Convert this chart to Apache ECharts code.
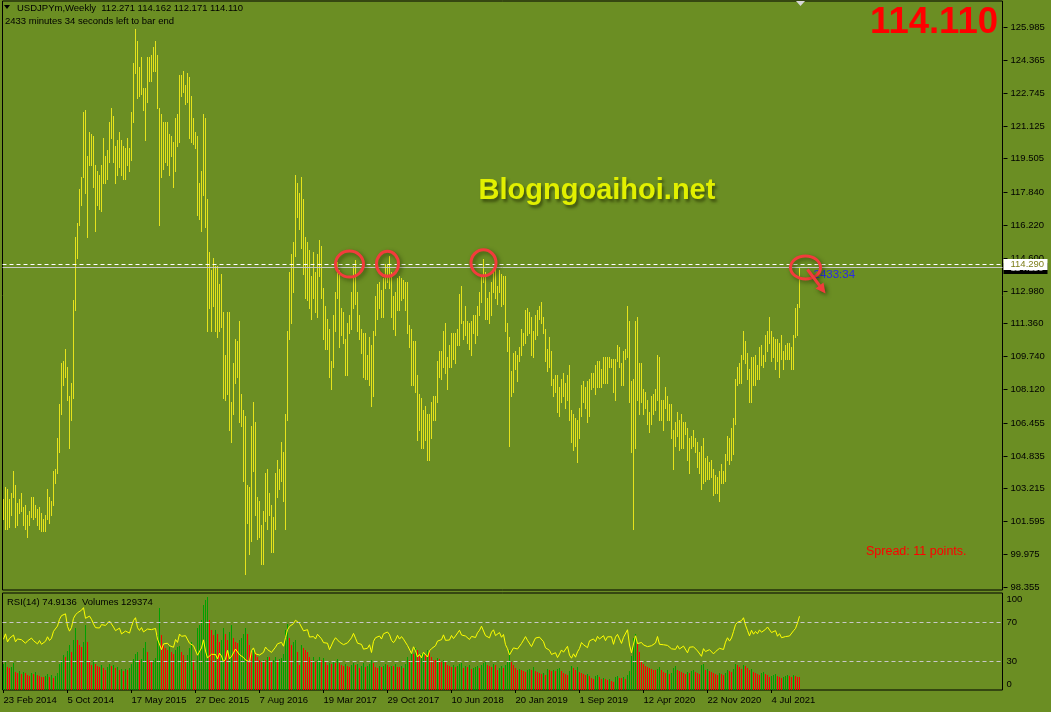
<!DOCTYPE html>
<html><head><meta charset="utf-8">
<script src="https://cdn.jsdelivr.net/npm/echarts@6/dist/echarts.min.js"></script>
<style>html,body{margin:0;padding:0;background:#6B8E23;}#c{width:1051px;height:712px;}</style>
</head><body><div id="c"></div>
<script>
// ---------- DATA (weekly USDJPY, first bar = week of 23 Feb 2014) ----------
const xTickLabels = ['23 Feb 2014','5 Oct 2014','17 May 2015','27 Dec 2015','7 Aug 2016','19 Mar 2017','29 Oct 2017','10 Jun 2018','20 Jan 2019','1 Sep 2019','12 Apr 2020','22 Nov 2020','4 Jul 2021'];
const priceTicks = [125.985,124.365,122.745,121.125,119.505,117.840,116.220,114.600,112.980,111.360,109.740,108.120,106.455,104.835,103.215,101.595,99.975,98.355];
const rsiTicks = [100,70,30,0];
const userLineLevel = 114.290;
const bidLevel = 114.110;
const headerText = 'USDJPYm,Weekly  112.271 114.162 112.171 114.110';
const timerText = '2433 minutes 34 seconds left to bar end';
const indicatorText = 'RSI(14) 74.9136  Volumes 129374';
const bigPriceText = '114.110';
const watermarkText = 'Blogngoaihoi.net';
const spreadText = 'Spread: 11 points.';
const countdownText = '2433:34';

const highs = [
// 2014
102.7,103.3,103.2,102.7,103.0,104.1,103.4,102.5,102.7,103.0,102.3,102.4,101.9,102.1,102.8,102.8,102.4,102.2,102.3,102.0,101.7,101.9,103.2,102.8,102.6,104.1,104.2,105.7,107.4,109.4,109.5,110.1,109.2,107.8,108.4,112.5,115.6,116.3,118.0,118.6,121.8,121.9,119.6,120.8,120.7,
// 2015
120.6,119.2,118.9,118.7,119.2,120.5,119.6,119.9,121.3,122.0,121.6,120.1,120.4,120.8,120.4,120.1,120.0,120.5,120.0,121.8,124.2,125.9,125.3,124.0,124.5,123.0,123.0,124.5,124.5,124.6,125.0,125.3,124.6,122.0,121.7,121.3,121.3,121.3,120.7,120.6,120.3,121.5,121.7,123.6,123.6,123.8,123.1,123.7,123.5,122.6,121.5,120.8,
// 2016
120.6,118.3,118.9,121.7,121.5,117.5,114.9,114.0,114.6,114.2,114.2,113.3,113.8,111.9,109.8,111.9,111.9,107.5,109.4,110.6,110.5,111.5,107.9,107.1,106.8,103.4,103.3,106.3,107.5,106.5,102.8,102.6,101.4,102.1,104.0,104.2,103.0,102.4,101.8,104.0,104.6,104.2,105.5,105.0,106.9,111.0,113.9,114.8,115.4,118.7,118.3,117.8,
// 2017
118.6,117.5,115.6,115.4,115.0,113.7,114.9,113.9,114.8,115.5,115.2,113.1,112.2,111.6,111.1,109.5,111.8,112.9,114.4,114.0,112.1,111.9,110.6,111.4,111.8,112.9,114.2,114.5,112.9,111.8,111.1,110.9,110.9,109.8,110.7,110.3,111.0,112.7,113.3,113.4,113.0,113.6,114.3,114.3,114.7,113.9,112.7,112.9,113.6,113.7,113.6,113.5,
// 2018
113.4,113.4,111.3,111.1,110.5,110.5,108.8,107.9,107.7,107.1,107.3,106.9,106.9,107.5,107.8,107.8,109.5,110.0,110.0,111.0,111.4,109.7,110.3,110.9,110.9,110.9,111.1,112.8,113.2,111.5,112.2,111.5,111.4,111.5,111.8,111.8,112.2,112.9,113.7,114.55,113.9,112.6,112.9,113.4,114.1,114.2,113.2,114.0,113.8,113.7,113.7,111.4,
// 2019
110.7,109.0,109.9,110.0,109.8,110.2,111.1,110.9,112.0,112.1,111.9,111.7,111.0,111.8,112.0,112.2,112.4,111.7,111.1,110.1,110.7,110.0,108.6,108.8,108.8,108.2,108.6,108.9,108.4,108.8,109.3,107.1,106.9,106.7,106.6,107.2,108.3,108.5,108.2,108.5,108.6,108.9,108.9,109.3,109.5,109.5,109.1,109.7,109.7,109.7,109.7,109.6,109.6,
// 2020
109.6,110.3,110.2,109.4,110.0,110.1,112.2,111.5,108.5,108.6,111.5,111.7,109.4,109.4,108.1,108.0,107.6,107.0,107.8,107.9,108.1,109.8,109.7,107.6,107.6,108.2,107.8,107.4,107.4,106.1,106.5,107.0,106.6,106.9,106.5,106.5,106.2,105.7,105.8,106.1,105.7,105.5,105.0,105.3,105.7,104.7,104.8,104.5,104.6,104.2,103.9,103.8,
// 2021
104.1,104.4,104.1,104.9,105.8,105.7,106.2,106.7,108.6,109.2,109.4,109.8,110.97,110.5,109.9,109.1,109.7,109.7,109.8,109.3,110.2,110.3,109.8,110.8,111.0,111.7,111.0,110.7,110.6,110.6,110.4,110.8,110.0,110.3,110.4,110.4,110.2,110.8,112.1,112.3,114.162
];
const lows = [
// 2014
101.7,101.2,101.2,101.3,101.9,102.8,101.3,101.4,102.0,102.1,101.4,101.2,100.8,101.4,101.8,101.7,101.8,101.4,101.2,101.1,101.1,101.1,101.7,101.5,101.9,102.4,103.5,104.0,105.0,106.9,108.3,108.7,107.6,105.2,106.6,107.7,112.0,114.6,116.2,117.2,118.6,117.8,115.6,119.2,119.2,
// 2015
118.1,115.9,117.2,117.0,116.9,118.3,118.3,118.5,119.3,120.5,119.3,118.3,118.7,119.1,118.7,118.5,118.5,119.2,118.9,119.4,121.3,123.7,122.5,122.6,122.7,121.9,120.4,122.3,123.3,123.3,123.8,123.8,122.0,116.2,118.6,119.0,119.3,119.2,118.7,119.6,118.1,118.9,120.1,120.3,122.6,122.8,122.2,122.3,120.5,120.3,120.2,120.0,
// 2016
116.7,116.5,115.9,117.7,116.1,110.98,112.1,111.0,112.2,111.0,110.7,111.0,111.2,107.7,107.6,107.9,106.1,105.5,106.9,108.4,108.7,106.5,106.3,103.6,99.0,101.5,99.98,100.6,104.1,101.9,100.7,100.8,99.5,99.5,101.6,101.2,101.9,100.1,100.1,101.2,102.8,103.2,103.6,102.6,101.2,106.6,110.6,111.4,112.9,114.7,116.6,116.0,
// 2017
115.1,113.8,112.6,112.5,112.1,111.6,112.6,111.9,111.7,113.7,112.6,110.6,110.1,110.1,108.7,108.1,109.2,111.0,112.6,110.2,110.8,110.4,108.8,108.8,110.9,111.1,112.1,112.3,111.0,110.6,109.9,108.7,108.6,108.6,108.3,107.3,107.8,110.8,111.6,112.1,111.7,111.7,113.1,113.4,113.1,111.7,111.1,110.8,112.0,112.0,112.5,112.6,
// 2018
112.0,110.9,110.2,108.3,108.3,108.0,105.6,106.1,105.2,105.2,105.6,104.6,104.6,105.7,106.6,106.6,107.5,108.7,108.6,109.2,108.9,108.1,109.2,109.2,109.6,109.4,110.3,110.3,111.4,110.6,110.8,110.4,110.1,109.8,110.9,110.4,110.8,111.8,112.4,113.4,111.6,111.6,111.4,111.8,112.9,112.6,112.3,112.9,112.2,112.3,111.0,110.0,
// 2019
105.3,107.8,108.0,109.1,108.5,109.5,109.8,110.3,110.4,110.8,110.9,109.8,109.7,110.6,110.8,111.6,111.4,110.9,109.5,109.0,109.2,108.3,107.8,108.0,107.0,106.8,107.5,107.8,107.2,107.6,106.6,105.5,105.1,105.3,104.5,105.7,106.8,107.5,107.2,106.5,106.8,108.1,108.2,107.9,108.2,108.2,108.2,108.4,108.4,108.4,109.2,109.2,108.0,
// 2020
107.6,109.5,109.2,108.3,108.3,109.6,109.7,107.5,105.0,101.2,105.2,107.6,106.9,107.5,106.9,107.2,106.4,106.0,106.4,106.9,107.1,107.6,106.6,106.6,106.1,107.2,106.6,106.6,105.7,104.2,105.3,105.8,105.1,105.2,105.2,105.9,104.6,104.0,105.2,105.3,105.0,104.3,104.0,103.2,103.5,103.6,103.7,103.7,103.8,102.9,103.0,103.0,
// 2021
102.6,103.5,103.5,103.6,104.6,104.4,104.6,104.9,106.4,108.3,108.4,108.4,109.6,109.4,108.6,107.5,107.5,108.3,108.3,108.6,108.6,109.3,109.2,109.5,110.0,110.4,109.5,109.7,109.1,109.5,108.7,109.6,109.1,109.6,109.6,109.6,109.1,109.1,110.7,110.8,112.171
];
const closes = [
// 2014
101.8,103.3,101.3,102.3,102.8,103.3,101.6,102.4,102.2,102.2,101.8,101.4,101.9,101.7,102.5,102.0,102.0,101.4,102.0,101.3,101.3,101.8,102.6,102.0,102.4,103.8,104.1,105.1,107.3,108.9,109.3,109.8,107.8,106.9,108.1,112.3,114.6,116.3,117.7,118.6,121.4,118.8,119.5,120.5,119.7,
// 2015
118.5,117.5,117.7,117.5,119.1,118.8,119.0,119.6,121.0,121.4,120.0,119.2,119.0,120.2,118.9,118.9,119.8,119.8,119.4,121.5,124.1,125.6,123.4,122.7,123.9,122.8,122.6,124.0,123.8,123.9,124.2,124.3,122.0,121.7,119.0,120.5,120.0,120.6,119.9,120.2,119.4,121.4,120.6,123.2,122.6,122.8,122.8,123.3,121.0,121.2,120.3,120.2,
// 2016
117.2,117.0,118.8,121.1,116.9,113.2,112.6,114.0,113.7,113.8,111.5,113.1,111.7,108.1,108.8,111.8,106.3,107.1,108.6,110.1,110.5,106.5,107.0,104.2,102.3,102.5,100.5,104.9,106.1,102.1,101.8,101.3,100.2,101.8,104.0,102.6,102.3,101.0,101.3,102.9,104.2,103.8,104.7,103.1,106.6,110.9,113.2,113.5,115.2,117.9,117.3,116.9,
// 2017
117.0,114.5,114.6,115.1,112.6,113.2,112.9,112.1,114.0,114.8,112.7,111.3,111.4,111.1,108.6,109.1,111.5,112.7,113.4,111.3,111.3,110.4,110.3,110.9,111.3,112.4,113.9,112.6,111.1,110.7,110.7,109.2,109.2,109.4,110.2,107.8,110.8,112.0,112.5,112.6,111.8,113.5,113.7,114.1,113.5,112.1,111.5,112.2,113.5,112.6,113.3,112.7,
// 2018
113.0,111.1,110.8,108.6,110.2,108.8,106.3,106.9,105.4,106.8,106.0,104.7,106.3,106.9,107.4,107.7,109.0,109.1,109.4,110.8,109.4,109.5,109.5,110.7,110.0,110.7,110.5,112.4,111.4,111.0,111.2,110.9,110.5,111.2,111.0,111.0,112.0,112.6,113.7,113.7,112.2,112.5,111.9,113.2,113.8,112.8,112.9,113.5,112.7,113.3,111.3,110.3,
// 2019
108.5,108.4,109.8,109.5,109.5,109.7,110.5,110.7,111.9,111.2,111.5,109.9,110.8,111.7,111.9,111.9,111.6,111.1,109.9,110.1,109.3,108.3,108.2,108.5,107.3,107.8,108.4,107.9,107.7,108.7,106.6,105.7,106.4,105.4,106.3,106.9,108.1,107.6,107.9,106.9,108.3,108.4,108.7,108.2,109.3,108.8,108.7,109.5,108.6,109.4,109.4,109.4,108.1,
// 2020
109.5,110.1,109.3,108.4,109.7,109.8,111.6,108.1,105.4,107.9,110.9,108.0,108.5,108.4,107.5,107.5,106.9,106.7,107.1,107.6,107.8,109.6,107.4,106.9,107.2,107.5,107.0,107.0,106.1,105.8,105.9,106.6,105.8,105.4,106.2,106.2,104.6,105.6,105.3,105.6,105.4,104.7,104.7,103.4,104.6,103.9,104.1,104.2,104.0,103.3,103.6,103.2,
// 2021
103.9,103.9,103.7,104.7,105.4,104.9,105.4,106.6,108.3,109.0,108.9,109.6,110.6,109.6,108.8,107.9,109.3,108.6,109.3,108.9,109.9,109.5,109.7,110.2,110.8,111.0,110.1,110.1,110.5,109.7,110.2,109.6,109.8,109.8,109.7,109.9,109.9,110.7,111.1,112.2,114.110
];
// weekly closes before the first visible bar (Jun 2013 - Feb 2014), only used to seed RSI(14)
const preCloses = [97.5,94.0,97.9,98.6,101.2,99.2,100.6,98.3,98.9,96.2,97.6,98.7,98.1,99.6,99.4,99.4,98.2,97.4,98.6,97.8,97.4,98.7,99.1,100.2,101.0,102.4,102.9,103.2,104.0,104.4,104.9,104.1,104.3,102.3,102.0,102.3,101.8,102.5];
// tick volume, thousands
const volumesK = [
// 2014
260,280,230,220,230,270,180,170,190,160,180,170,150,140,170,160,180,150,140,130,130,140,160,130,150,120,140,170,260,300,350,330,390,450,380,500,620,500,450,430,480,650,480,300,250,
// 2015
300,260,240,230,250,220,200,230,260,240,250,220,230,200,210,190,210,200,220,260,310,360,380,300,310,420,480,380,300,280,300,320,550,820,550,450,420,400,430,380,360,400,430,440,380,350,300,350,420,480,300,200,
// 2016
620,650,700,850,900,930,700,600,550,600,560,480,500,620,560,500,580,650,520,480,470,500,520,560,620,560,450,380,400,380,330,300,280,300,300,330,330,280,300,330,300,310,320,360,600,660,520,450,480,500,380,250,
// 2017
450,420,400,380,330,300,330,280,300,330,300,320,280,250,270,260,280,270,310,270,250,240,260,240,230,250,270,250,260,220,240,270,230,240,260,300,270,230,220,240,230,240,260,250,230,240,240,260,230,230,240,220,
// 2018
260,330,300,380,360,420,400,340,360,380,350,400,380,330,300,300,320,310,280,300,290,250,240,230,250,230,240,260,270,220,240,230,250,210,220,230,240,220,250,270,280,250,240,230,260,250,200,220,240,220,250,280,
// 2019
400,280,250,220,200,210,200,190,180,200,210,200,230,190,180,170,160,170,150,210,200,190,200,190,210,220,190,170,160,150,190,240,220,200,230,180,170,160,150,160,140,120,110,140,150,130,110,120,110,100,110,90,80,
// 2020
130,140,120,120,130,110,150,190,340,520,560,460,380,280,260,240,230,220,210,200,200,210,230,200,180,170,200,160,170,220,240,200,190,180,170,160,180,170,190,200,180,170,160,250,260,200,210,190,180,170,160,150,
// 2021
170,160,150,170,200,190,180,210,260,250,230,210,250,240,220,200,210,180,170,160,150,170,180,160,150,130,140,150,160,140,130,120,130,140,150,140,130,150,140,130,130
];
// annotation anchors: [bar index, price]
const circleMarks = [[173,114.29],[192,114.30],[240,114.35],[401,114.12]];
const countdownAnchor = [398, 114.110];

// ---------- derived ----------
const SLOTS = 500;
const categories = Array.from({length: SLOTS}, (_, i) => i);
const barData = highs.map((h, i) => [i, h, lows[i]]);
const UP_VOL = '#00a000', DOWN_VOL = '#ff0000';
const volData = volumesK.map((v, i) => [i, v, (i === 0 || v > volumesK[i - 1]) ? 1 : 0]);
// RSI(14), Wilder smoothing
const allC = preCloses.concat(closes);
const rsiAll = new Array(allC.length).fill(null);
let ag = 0, al = 0;
for (let j = 1; j <= 14; j++) { const d = allC[j]-allC[j-1]; if (d>0) ag += d; else al -= d; }
ag /= 14; al /= 14;
rsiAll[14] = al === 0 ? 100 : 100 - 100/(1+ag/al);
for (let j = 15; j < allC.length; j++) {
  const d = allC[j]-allC[j-1];
  ag = (ag*13 + (d>0?d:0))/14; al = (al*13 + (d<0?-d:0))/14;
  rsiAll[j] = al === 0 ? 100 : 100 - 100/(1+ag/al);
}
const rsiData = closes.map((c, i) => [i, rsiAll[i + preCloses.length]]);

const FONT = '"Liberation Sans", Arial, sans-serif';
const circleSizes = [[14,13],[11,12.5],[12.5,13],[15,11.5]];

const chart = echarts.init(document.getElementById('c'), null, {renderer: 'canvas'});
chart.setOption({
  animation: false,
  backgroundColor: '#6B8E23',
  grid: [
    {left: 2.5, top: 1, width: 1000, height: 589, show: true, borderColor: '#000', borderWidth: 1, backgroundColor: 'transparent'},
    {left: 2.5, top: 593, width: 1000, height: 97, show: true, borderColor: '#000', borderWidth: 1, backgroundColor: 'transparent'}
  ],
  xAxis: [
    {type: 'category', gridIndex: 0, data: categories, boundaryGap: true, show: false},
    {type: 'category', gridIndex: 1, data: categories, boundaryGap: true,
     axisLine: {show: false},
     axisTick: {show: true, length: 3, alignWithLabel: true, lineStyle: {color: '#000'},
       interval: (idx) => idx % 32 === 0 && idx / 32 < xTickLabels.length},
     axisLabel: {show: true, color: '#000', fontFamily: FONT, fontSize: 9.5, margin: 5, align: 'left', padding: [0,0,0,0],
       interval: (idx) => idx % 32 === 0 && idx / 32 < xTickLabels.length,
       formatter: (v, idx) => xTickLabels[idx / 32] || ''},
     splitLine: {show: false}}
  ],
  yAxis: [
    {type: 'value', gridIndex: 0, min: 98.207, max: 127.268, show: false, splitLine: {show: false}},
    {type: 'value', gridIndex: 1, min: 0, max: 100, show: false, splitLine: {show: false}},
    {type: 'value', gridIndex: 1, min: 0, max: 970, show: false, splitLine: {show: false}}
  ],
  series: [
    { // price bars (high-low)
      type: 'custom', xAxisIndex: 0, yAxisIndex: 0, data: barData, encode: {x: 0, y: [1, 2]}, z: 3,
      renderItem: (params, api) => {
        const a = api.coord([api.value(0), api.value(1)]);
        const b = api.coord([api.value(0), api.value(2)]);
        const x = Math.round(a[0] - 0.5) + 0.5;
        return {type: 'line', shape: {x1: x, y1: Math.round(a[1]), x2: x, y2: Math.round(b[1]) + 1},
          style: {stroke: '#e6e21c', lineWidth: 1}};
      },
      markLine: {silent: true, symbol: 'none', label: {show: false}, animation: false,
        data: [
          {yAxis: userLineLevel, lineStyle: {color: '#ffffff', type: [4, 3], width: 1}},
          {yAxis: bidLevel, lineStyle: {color: '#c8c8c8', type: 'solid', width: 1}}
        ]}
    },
    { // price axis labels
      type: 'custom', xAxisIndex: 0, yAxisIndex: 0, clip: false, z: 5,
      data: priceTicks.map(v => [0, v]),
      renderItem: (params, api) => {
        const cs = params.coordSys; const right = cs.x + cs.width;
        const v = api.value(1);
        const y = Math.round(api.coord([0, v])[1]) + 0.5;
        return {type: 'group', children: [
          {type: 'line', shape: {x1: right + 1, y1: y, x2: right + 5, y2: y}, style: {stroke: '#000', lineWidth: 1}},
          {type: 'text', x: right + 8, y: y, style: {text: v.toFixed(3), fill: '#000', font: '9.5px ' + FONT,
            align: 'left', verticalAlign: 'middle', textAlign: 'left', textVerticalAlign: 'middle'}}
        ]};
      }
    },
    { // price tags on the axis (bid, user line)
      type: 'custom', xAxisIndex: 0, yAxisIndex: 0, clip: false, z: 6,
      data: [[0, bidLevel], [0, userLineLevel]],
      renderItem: (params, api) => {
        const cs = params.coordSys; const right = cs.x + cs.width;
        const v = api.value(1);
        const y = api.coord([0, v])[1];
        const isBid = params.dataIndex === 0;
        return {type: 'group', children: [
          {type: 'rect', shape: {x: right + 1, y: Math.round(y) - 5, width: 44, height: 11},
            style: {fill: isBid ? '#000' : '#fff'}},
          {type: 'text', x: right + 8, y: Math.round(y) + 0.5, style: {text: v.toFixed(3), fill: isBid ? '#c0c0c0' : '#7d7d18',
            font: '9.5px ' + FONT, align: 'left', verticalAlign: 'middle', textAlign: 'left', textVerticalAlign: 'middle'}}
        ]};
      }
    },
    { // red circles + arrow
      type: 'custom', xAxisIndex: 0, yAxisIndex: 0, clip: false, z: 8,
      data: circleMarks,
      renderItem: (params, api) => {
        const p = api.coord([api.value(0), api.value(1)]);
        const s = circleSizes[params.dataIndex];
        const shadow = {shadowBlur: 4, shadowColor: 'rgba(30,40,0,0.55)', shadowOffsetX: 2, shadowOffsetY: 2};
        const kids = [{type: 'ellipse', shape: {cx: p[0], cy: p[1], rx: s[0], ry: s[1]},
          style: Object.assign({fill: null, stroke: '#f23c3c', lineWidth: 3}, shadow)}];
        if (params.dataIndex === circleMarks.length - 1) {
          const x0 = p[0] + 2, y0 = p[1] + 2, x1 = p[0] + 20, y1 = p[1] + 26;
          const L = Math.hypot(x1 - x0, y1 - y0), ux = (x1 - x0) / L, uy = (y1 - y0) / L;
          kids.push({type: 'line', shape: {x1: x0, y1: y0, x2: x1 - ux * 6, y2: y1 - uy * 6},
            style: Object.assign({stroke: '#f23c3c', lineWidth: 3}, shadow)});
          kids.push({type: 'polygon', shape: {points: [[x1, y1],
            [x1 - ux * 10 - uy * 5, y1 - uy * 10 + ux * 5], [x1 - ux * 10 + uy * 5, y1 - uy * 10 - ux * 5]]},
            style: Object.assign({fill: '#f23c3c'}, shadow)});
        }
        return {type: 'group', children: kids};
      }
    },
    { // bar countdown near last bar
      type: 'custom', xAxisIndex: 0, yAxisIndex: 0, clip: false, z: 7,
      data: [countdownAnchor],
      renderItem: (params, api) => {
        const p = api.coord([api.value(0), api.value(1)]);
        return {type: 'text', x: p[0] + 14, y: p[1] + 7, style: {text: countdownText, fill: '#2a2ae6',
          font: '11.5px ' + FONT, align: 'left', verticalAlign: 'middle',
          textAlign: 'left', textVerticalAlign: 'middle'}};
      }
    },
    { // volumes (1px histogram columns)
      type: 'custom', xAxisIndex: 1, yAxisIndex: 2, data: volData, encode: {x: 0, y: 1}, z: 2, silent: true,
      renderItem: (params, api) => {
        const t = api.coord([api.value(0), api.value(1)]);
        const b = api.coord([api.value(0), 0]);
        const x = Math.round(t[0] - 0.5) + 0.5;
        return {type: 'line', shape: {x1: x, y1: Math.round(t[1]), x2: x, y2: Math.round(b[1])},
          style: {stroke: api.value(2) ? UP_VOL : DOWN_VOL, lineWidth: 1}};
      }
    },
    { // RSI(14)
      type: 'line', xAxisIndex: 1, yAxisIndex: 1, data: rsiData, showSymbol: false, z: 4,
      lineStyle: {color: '#ffff00', width: 1}, silent: true,
      markLine: {silent: true, symbol: 'none', label: {show: false}, animation: false,
        lineStyle: {color: '#c8c8c8', type: [4, 3], width: 1},
        data: [{yAxis: 70}, {yAxis: 30}]}
    },
    { // RSI scale labels
      type: 'custom', xAxisIndex: 1, yAxisIndex: 1, clip: false, z: 5,
      data: rsiTicks.map(v => [0, v]),
      renderItem: (params, api) => {
        const cs = params.coordSys; const right = cs.x + cs.width;
        const v = api.value(1);
        let y = api.coord([0, v])[1];
        y = Math.min(Math.max(y, cs.y + 6.5), cs.y + cs.height - 6);
        return {type: 'text', x: right + 4, y: y, style: {text: String(v), fill: '#000', font: '9.5px ' + FONT,
          align: 'left', verticalAlign: 'middle', textAlign: 'left', textVerticalAlign: 'middle'}};
      }
    }
  ],
  graphic: [
    {type: 'polygon', shape: {points: [[4, 5], [10, 5], [7, 9]]}, style: {fill: '#000'}, z: 10},
    {type: 'text', x: 17, y: 8, style: {text: headerText, fill: '#000', font: '9.5px ' + FONT, textVerticalAlign: 'middle', verticalAlign: 'middle'}, z: 10},
    {type: 'text', x: 5, y: 21, style: {text: timerText, fill: '#000', font: '9.5px ' + FONT, textVerticalAlign: 'middle', verticalAlign: 'middle'}, z: 10},
    {type: 'text', x: 998, y: 23, style: {text: bigPriceText, fill: '#ff0000', font: 'bold 36.5px ' + FONT, textAlign: 'right', align: 'right', textVerticalAlign: 'middle', verticalAlign: 'middle'}, z: 10},
    {type: 'text', x: 597, y: 191, style: {text: watermarkText, fill: '#e2f000', font: 'bold 29px ' + FONT, textAlign: 'center', align: 'center', textVerticalAlign: 'middle', verticalAlign: 'middle',
      textShadowColor: 'rgba(35,45,0,0.6)', textShadowBlur: 3, textShadowOffsetX: 2, textShadowOffsetY: 3}, z: 10},
    {type: 'text', x: 866, y: 552, style: {text: spreadText, fill: '#ff0000', font: '12.5px ' + FONT, textVerticalAlign: 'middle', verticalAlign: 'middle'}, z: 10},
    {type: 'text', x: 7, y: 602, style: {text: indicatorText, fill: '#000', font: '9.5px ' + FONT, textVerticalAlign: 'middle', verticalAlign: 'middle'}, z: 10},
    {type: 'polygon', shape: {points: [[796, 1], [805, 1], [800.5, 6]]}, style: {fill: '#d8d8d8'}, z: 10}
  ]
});
</script>
</body></html>
